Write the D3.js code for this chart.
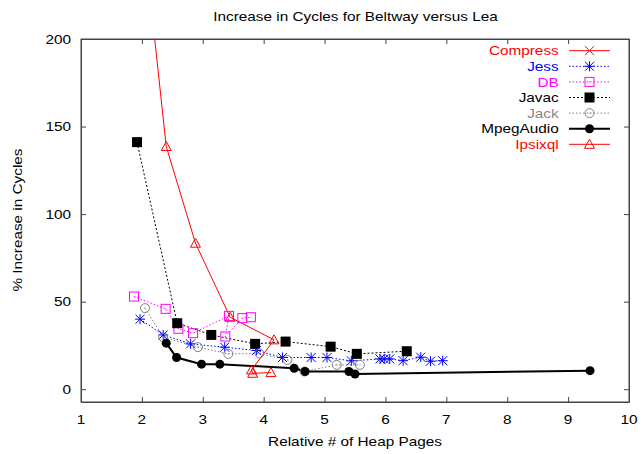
<!DOCTYPE html>
<html><head><meta charset="utf-8">
<script src="https://cdn.jsdelivr.net/npm/d3@7"></script>
<style>body{margin:0;background:#fff}svg{display:block}text{font-family:"Liberation Sans",Arial,sans-serif}</style>
</head><body><svg id="c" width="643" height="454"></svg>
<script>
const xTicks = [1,2,3,4,5,6,7,8,9,10];
const yTicks = [0,50,100,150,200];
const compress = [];
const jess = [[1.97,40.0],[2.35,31.0],[2.80,25.9],[3.36,24.0],[3.88,22.1],[4.31,18.1],[4.78,18.1],[5.04,18.1],[5.44,16.2],[5.91,17.3],[5.98,17.3],[6.07,17.3],[6.29,16.3],[6.58,18.3],[6.74,16.0],[6.94,16.3]];
const db = [[1.87,52.9],[2.39,45.9],[2.60,34.5],[2.84,32.0],[3.43,41.9],[3.37,30.1],[3.65,40.6],[3.79,41.1]];
const javac = [[1.92,141.1],[2.58,37.7],[3.14,31.0],[3.86,25.9],[4.36,27.2],[5.10,24.3],[5.53,20.2],[6.35,21.7]];
const jack = [[2.05,46.3],[2.35,29.7],[2.92,24.0],[3.42,20.2],[3.93,20.4],[4.39,16.7],[4.67,10.1],[5.20,13.9],[5.58,13.9]];
const mpegAudio = [[2.40,26.3],[2.57,18.1],[2.98,14.3],[3.28,14.3],[4.50,12.0],[4.68,10.1],[5.40,10.1],[5.50,8.7],[9.36,10.6]];
const ipsixql = [[1.92,294],[2.40,138.6],[2.88,83.4],[3.45,41.1],[4.17,28.2],[3.80,11.0],[3.82,9.1],[4.12,9.5]];
const seriesNames = ["Compress","Jess","DB","Javac","Jack","MpegAudio","Ipsixql"];

const series = [
  {name:seriesNames[0], data:compress, color:"#ff0000", text:"#ff0000", dash:null, w:1, mk:"x"},
  {name:seriesNames[1], data:jess, color:"#0000ff", text:"#0000ff", dash:"1.5,2", w:1, mk:"star"},
  {name:seriesNames[2], data:db, color:"#ff00ff", text:"#ff00ff", dash:"1.5,2", w:1, mk:"osq"},
  {name:seriesNames[3], data:javac, color:"#000000", text:"#000000", dash:"2,2", w:1, mk:"fsq"},
  {name:seriesNames[4], data:jack, color:"#808080", text:"#888888", dash:"1.5,2", w:1, mk:"ocirc"},
  {name:seriesNames[5], data:mpegAudio, color:"#000000", text:"#000000", dash:null, w:2, mk:"fcirc"},
  {name:seriesNames[6], data:ipsixql, color:"#ff0000", text:"#ff0000", dash:null, w:1, mk:"tri"}
];

const svg = d3.select("#c");
const L=81, R=629, T=39, B=402;
const x = d3.scaleLinear().domain([1,10]).range([L,R]);
const y = d3.scaleLinear().domain([-7.3,200]).range([B,T]);
const SX = 1.18, FS = 13;

function txt(px, py, s, anchor, color, rot){
  const g = svg.append("g").attr("transform", `translate(${px},${py})` + (rot?` rotate(${rot})`:"") + ` scale(${SX},1)`);
  g.append("text").attr("text-anchor", anchor).attr("font-size", FS).attr("fill", color||"#000").text(s);
}

// axes with inward ticks
const gx = svg.append("g").attr("transform",`translate(0,${B})`).call(d3.axisBottom(x).tickValues(xTicks).tickSizeInner(-5).tickSizeOuter(0).tickFormat(""));
const gxt = svg.append("g").attr("transform",`translate(0,${T})`).call(d3.axisTop(x).tickValues(xTicks).tickSizeInner(-5).tickSizeOuter(0).tickFormat(""));
const gy = svg.append("g").attr("transform",`translate(${L},0)`).call(d3.axisLeft(y).tickValues(yTicks).tickSizeInner(-5).tickSizeOuter(0).tickFormat(""));
const gyr = svg.append("g").attr("transform",`translate(${R},0)`).call(d3.axisRight(y).tickValues(yTicks).tickSizeInner(-5).tickSizeOuter(0).tickFormat(""));
[gx,gxt,gy,gyr].forEach(g=>{g.selectAll("path").attr("stroke","#444");g.selectAll("line").attr("stroke","#444");});
svg.append("rect").attr("x",L).attr("y",T).attr("width",R-L).attr("height",B-T).attr("fill","none").attr("stroke","#444").attr("stroke-width",1);

xTicks.forEach(v=>txt(x(v), 424, String(v), "middle"));
yTicks.forEach(v=>txt(71, y(v)+4.7, String(v), "end"));

txt(355.5, 21, "Increase in Cycles for Beltway versus Lea", "middle");
txt(355, 446, "Relative # of Heap Pages", "middle");
txt(22, 220, "% Increase in Cycles", "middle", "#000", -90);

svg.append("clipPath").attr("id","clip").append("rect").attr("x",L).attr("y",T).attr("width",R-L).attr("height",B-T);
const plot = svg.append("g").attr("clip-path","url(#clip)");

function marker(g, mk, cx, cy, color){
  const s = 4.5;
  if(mk==="x"){
    g.append("path").attr("d",`M${cx-s},${cy-s}L${cx+s},${cy+s}M${cx-s},${cy+s}L${cx+s},${cy-s}`).attr("stroke",color).attr("fill","none");
  } else if(mk==="star"){
    g.append("path").attr("d",`M${cx-s},${cy-s}L${cx+s},${cy+s}M${cx-s},${cy+s}L${cx+s},${cy-s}M${cx},${cy-s-0.5}L${cx},${cy+s+0.5}M${cx-s-0.5},${cy}L${cx+s+0.5},${cy}`).attr("stroke",color).attr("fill","none");
  } else if(mk==="osq"){
    g.append("rect").attr("x",cx-s).attr("y",cy-s).attr("width",2*s).attr("height",2*s).attr("fill","none").attr("stroke",color);
    g.append("rect").attr("x",cx-0.5).attr("y",cy-0.5).attr("width",1).attr("height",1).attr("fill",color).attr("opacity",0.6);
  } else if(mk==="fsq"){
    g.append("rect").attr("x",cx-s-0.5).attr("y",cy-s-0.5).attr("width",2*s+1).attr("height",2*s+1).attr("fill",color);
  } else if(mk==="ocirc"){
    g.append("circle").attr("cx",cx).attr("cy",cy).attr("r",4.5).attr("fill","none").attr("stroke",color);
    g.append("rect").attr("x",cx-1).attr("y",cy-0.5).attr("width",2).attr("height",1).attr("fill",color).attr("opacity",0.6);
  } else if(mk==="fcirc"){
    g.append("circle").attr("cx",cx).attr("cy",cy).attr("r",4.5).attr("fill",color);
  } else if(mk==="tri"){
    g.append("path").attr("d",`M${cx},${cy-s-0.5}L${cx+s+0.5},${cy+s-0.5}L${cx-s-0.5},${cy+s-0.5}Z`).attr("fill","none").attr("stroke",color);
  }
}

const line = d3.line().x(d=>x(d[0])).y(d=>y(d[1]));
series.forEach(s=>{
  if(!s.data.length) return;
  plot.append("path").datum(s.data).attr("d",line).attr("fill","none").attr("stroke",s.color).attr("stroke-width",s.w).attr("stroke-dasharray",s.dash);
});
series.forEach(s=>{
  const g = plot.append("g");
  s.data.forEach(d=>marker(g, s.mk, x(d[0]), y(d[1]), s.color));
});

// legend
series.forEach((s,i)=>{
  const ly = 50.7 + i*15.6;
  txt(558.7, ly+4.6, s.name, "end", s.text);
  svg.append("line").attr("x1",569).attr("x2",610).attr("y1",ly).attr("y2",ly).attr("stroke",s.color).attr("stroke-width",s.w).attr("stroke-dasharray",s.dash);
  marker(svg.append("g"), s.mk, 589.5, ly, s.color);
});
</script></body></html>
